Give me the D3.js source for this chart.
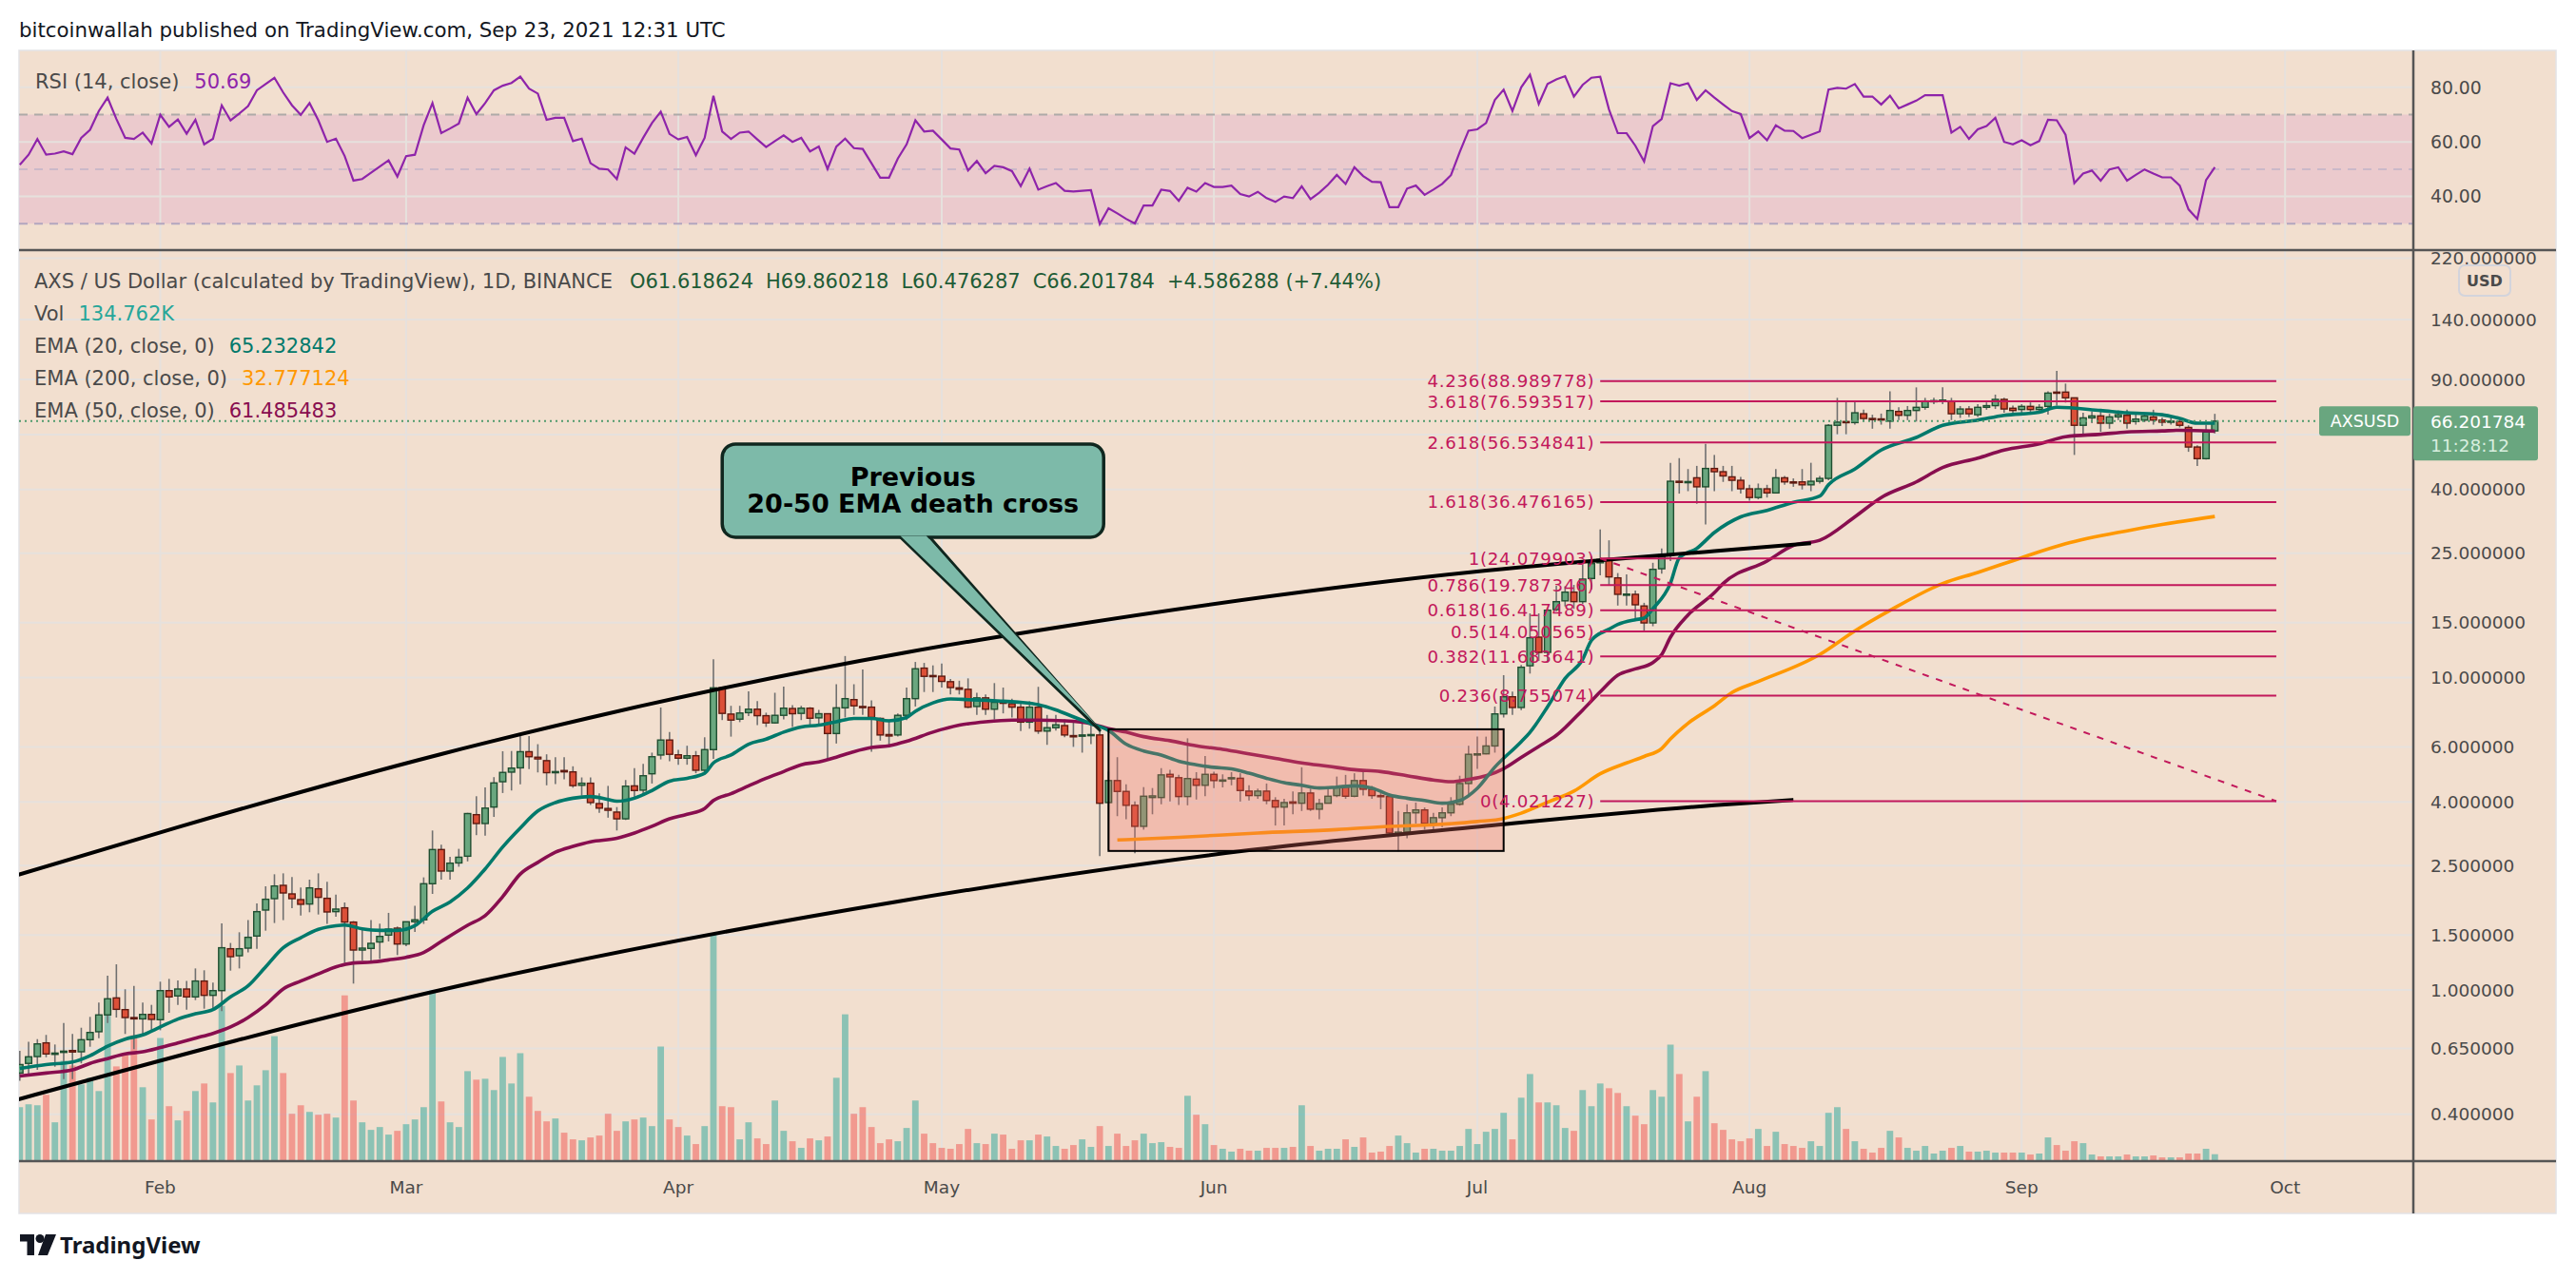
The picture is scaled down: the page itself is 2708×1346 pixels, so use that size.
<!DOCTYPE html>
<html>
<head>
<meta charset="utf-8">
<script src="https://cdn.jsdelivr.net/npm/d3@7"></script>
<style>
  html, body { margin: 0; padding: 0; background: #fff; }
  svg { display: block; }
</style>
</head>
<body>
<svg id="chart"></svg>
<script>
// ---- data (AXS/USD daily, Binance) ----
const firstDay = "2021-01-16"
const lastDay = "2021-09-23"

const opens = [
  .542,.582,.612,.677,.622,.631,.640,.634,.693,.735,.832,.943,.865,.816,.808,.835,
  .803,.995,.957,1.007,.950,1.068,.961,.995,1.355,1.287,1.361,1.488,1.802,1.960,2.162,2.030,1.946,1.884,2.107,1.965,1.781,1.832,1.649,1.342,1.358,1.424,1.498,1.577,
  1.403,1.653,1.677,2.188,2.815,2.402,2.55,2.68,3.64,3.41,3.85,4.64,4.98,5.14,5.79,5.56,5.42,4.96,5.04,4.99,4.52,4.59,3.95,3.81,3.71,3.53,4.50,4.36,4.92,5.65,6.31,
  5.66,5.52,5.62,5.05,5.88,9.27,7.64,7.36,7.72,7.92,7.55,7.16,7.57,7.96,7.68,7.98,7.43,7.66,6.62,8.00,8.50,8.08,8.04,7.40,6.57,6.55,7.57,8.56,10.72,10.15,
  10.10,9.70,9.27,9.17,8.08,8.61,7.92,8.38,8.25,8.04,7.20,8.04,6.74,6.91,7.02,6.52,6.49,6.54,6.55,3.98,4.68,4.32,3.90,3.34,4.13,4.13,4.90,4.78,4.16,4.73,4.52,
  4.90,4.66,4.74,4.76,4.33,4.19,4.33,4.04,3.85,4.00,3.96,4.27,3.79,3.96,4.19,4.50,4.17,4.68,4.39,4.19,4.16,3.16,3.20,3.69,3.77,3.41,3.56,3.69,3.93,4.58,
  5.65,5.70,6.04,7.65,8.68,8.02,10.91,13.47,12.04,16.5,17.6,18.77,17.5,20.76,23.3,23.8,20.85,18.45,18.47,16.95,14.96,22.3,24.7,42.5,42.2,43.6,40.8,46.7,45.6,43.9,42.8,
  40.2,37.7,40.2,39.0,43.6,42.3,42.3,41.4,42.5,43.4,64.2,66.0,65.5,69.9,67.5,67.3,66.2,71.1,69.1,71.6,73.3,76.8,76.6,76.8,69.9,72.4,69.4,73.3,74.2,77.7,72.8,
  72.1,73.8,72.1,73.8,82.0,82.0,78.6,64.2,67.8,68.8,65.2,68.3,69.1,66.0,66.7,68.3,66.7,65.7,66.0,63.2,54.7,50.2,61.618624
]
const highs = [
  .639,.683,.696,.718,.669,.784,.723,.757,.820,.911,1.111,1.208,1.005,1.031,.911,.896,
  1.063,1.085,1.073,1.068,1.172,1.156,1.055,1.634,1.414,1.530,1.673,1.893,2.147,2.346,2.362,2.298,2.127,2.255,2.362,2.218,2.020,1.906,1.661,1.570,1.673,1.630,1.765,1.596,
  1.657,1.858,2.293,3.239,2.915,2.668,2.83,3.69,4.17,4.45,4.80,5.81,5.82,6.60,6.50,6.12,5.68,5.56,5.56,5.20,4.79,4.79,4.26,4.50,3.85,4.70,5.13,5.29,5.75,8.02,6.69,
  5.87,6.05,5.82,6.44,11.45,9.35,8.12,8.12,9.03,8.40,7.72,8.94,9.36,8.16,8.12,8.04,7.88,7.68,9.52,11.72,9.52,10.62,8.45,7.45,7.34,7.68,9.29,11.22,11.14,10.94,
  11.08,9.89,9.77,9.94,8.94,8.83,9.60,9.29,8.56,8.40,8.40,9.34,7.59,7.59,7.34,7.31,7.22,7.09,6.81,5.00,5.56,4.55,4.01,4.46,4.43,5.13,5.07,4.88,6.39,4.98,5.61,
  5.00,4.90,4.98,4.94,4.52,4.41,4.58,4.14,4.09,4.32,5.16,4.41,4.09,4.41,4.82,4.88,4.94,5.07,4.50,4.27,4.19,3.74,3.93,3.98,3.84,3.69,3.84,4.14,4.85,6.05,
  6.47,6.47,8.08,10.18,9.02,10.97,16.05,16.05,16.6,19.67,19.6,19.8,23.05,24.4,29.8,27.5,21.6,21.4,19.0,17.35,23.3,25.9,48.7,50.4,46.5,47.6,56.0,51.6,47.6,47.6,43.9,
  41.4,41.8,41.4,46.5,44.2,43.4,46.5,48.7,44.2,64.8,78.6,76.8,76.8,72.0,69.4,70.0,82.4,73.3,74.0,84.9,78.6,78.6,84.9,78.6,74.0,74.0,75.0,76.0,80.5,78.6,74.2,
  75.0,76.0,75.0,82.4,95.9,87.3,78.6,70.4,71.0,72.0,69.9,71.6,72.0,70.0,70.4,72.0,68.0,68.3,67.5,64.2,55.4,64.5,69.860218
]
const lows = [
  .512,.530,.555,.609,.568,.518,.518,.582,.658,.701,.784,.816,.723,.646,.714,.738,
  .743,.845,.896,.865,.928,.871,.865,.855,1.153,1.172,1.318,1.355,1.548,1.638,1.673,1.827,1.732,1.773,1.744,1.627,1.716,1.220,1.048,1.243,1.228,1.257,1.430,1.293,
  1.380,1.533,1.627,2.030,2.255,2.255,2.48,2.58,3.13,3.12,3.58,4.27,4.35,4.55,5.09,4.97,4.52,4.56,4.72,4.44,4.19,3.91,3.69,3.56,3.24,3.50,4.12,4.19,4.58,5.47,5.40,
  5.26,5.26,4.94,4.94,5.49,7.31,6.47,7.20,7.53,7.04,6.95,7.12,7.34,6.95,7.31,6.95,7.04,5.47,6.15,7.45,7.59,7.59,5.79,6.28,5.97,6.47,7.31,8.08,8.99,8.99,
  9.29,8.83,8.83,7.98,7.59,7.59,7.34,7.68,7.45,6.74,6.86,6.60,6.09,6.77,6.44,6.00,5.75,6.12,2.68,2.80,3.60,3.52,2.74,3.26,3.65,3.93,4.01,3.91,3.90,4.07,4.17,
  4.43,4.45,4.52,4.01,4.04,4.09,3.93,3.36,3.36,3.65,3.74,3.74,3.52,3.95,4.14,4.09,4.14,4.19,4.09,3.79,3.13,2.78,3.06,3.41,3.26,3.26,3.32,3.60,3.89,4.24,
  5.10,5.68,5.75,7.45,7.60,7.87,10.30,11.30,11.17,16.3,16.9,16.6,17.2,19.12,21.24,19.8,17.0,17.0,15.3,13.95,14.6,21.5,23.6,38.8,39.5,36.0,30.9,39.5,42.3,39.5,38.8,
  36.8,37.2,37.7,38.8,41.4,40.8,40.0,39.5,41.8,42.8,60.1,60.1,64.5,66.0,62.6,64.5,62.6,66.7,66.7,66.0,72.0,75.0,75.0,66.7,67.8,68.3,68.3,72.0,72.4,70.4,69.4,
  70.4,70.4,70.4,69.4,74.2,75.9,51.6,60.1,65.2,61.2,62.6,66.7,62.6,64.5,65.7,64.5,63.8,64.5,63.2,52.8,47.6,49.9,60.476287
]
const closes = [
  .577,.611,.672,.624,.628,.637,.633,.693,.731,.832,.937,.867,.816,.808,.835,.805,
  .995,.950,1.007,.950,1.068,.961,.995,1.365,1.278,1.355,1.474,1.781,1.951,2.152,2.044,1.960,1.880,2.122,1.979,1.777,1.815,1.649,1.342,1.361,1.410,1.484,1.566,1.403,
  1.653,1.677,2.188,2.815,2.402,2.546,2.66,3.67,3.41,3.82,4.60,4.97,5.13,5.79,5.58,5.49,4.96,5.00,4.99,4.51,4.59,3.98,3.82,3.76,3.53,4.49,4.35,4.85,5.58,6.31,5.68,
  5.52,5.62,5.05,5.88,9.27,7.68,7.31,7.70,7.92,7.55,7.16,7.57,7.98,7.66,7.98,7.41,7.66,6.62,8.00,8.56,8.12,8.02,7.45,6.55,6.50,7.57,8.56,10.67,10.09,10.07,
  9.72,9.29,9.17,8.04,8.61,7.92,8.33,8.27,8.04,7.20,8.04,6.74,6.91,7.06,6.55,6.46,6.55,6.57,3.96,4.68,4.32,3.90,3.34,4.17,4.18,4.88,4.81,4.16,4.75,4.52,4.90,
  4.68,4.70,4.78,4.35,4.19,4.33,4.04,3.85,3.98,3.96,4.27,3.79,3.95,4.17,4.45,4.17,4.68,4.39,4.19,4.16,3.18,3.20,3.69,3.77,3.41,3.56,3.69,3.93,4.58,5.68,
  5.70,6.04,7.65,8.68,8.02,10.79,13.41,12.04,16.43,17.50,18.77,17.50,20.66,23.16,23.88,21.0,18.47,18.5,17.1,14.96,22.2,24.7,42.5,42.2,42.4,40.8,46.7,45.6,44.2,42.8,40.2,
  37.7,40.2,39.0,43.6,42.3,42.2,41.4,42.5,43.4,64.2,65.7,65.5,70.4,67.5,67.3,67.0,71.6,69.1,71.6,73.3,76.8,77.0,77.3,69.9,72.4,69.9,73.3,74.2,77.7,72.4,71.6,
  73.8,72.1,73.3,81.4,81.4,78.6,64.2,67.8,68.8,65.2,68.3,69.4,65.2,67.2,68.8,66.7,65.7,66.2,64.2,54.7,50.2,61.1,66.201784
]
// volume in thousands of AXS
const volumes = [
  1198,1263,1241,1477,856,2247,2140,1712,1862,1562,3360,2119,2375,2825,1648,920,
  2761,1220,899,1113,1562,1733,1305,3488,1969,2140,1348,1691,2033,2803,1969,1049,1241,1091,1027,1049,963,3724,1348,856,685,749,578,663,
  813,920,1198,3831,1327,856,749,2012,1819,1840,1584,2333,1733,2418,1434,1113,877,942,621,471,449,514,556,1049,663,877,920,963,770,2568,920,
  749,556,364,770,5115,1220,1198,471,856,492,364,1348,663,428,278,492,449,535,1862,3296,1049,1198,749,385,471,428,728,1348,599,385,
  278,257,364,706,385,364,599,578,257,449,449,578,535,321,257,342,471,300,770,321,599,321,449,599,385,407,300,278,1455,1027,813,
  342,257,193,257,214,214,278,278,278,300,1241,321,214,257,257,471,300,514,171,193,321,556,385,171,257,257,214,214,321,706,
  364,642,706,1070,471,1412,1947,1305,1305,1241,728,663,1584,1220,1733,1626,1519,1220,1006,813,1584,1434,2611,1947,877,1434,2012,835,685,471,428,
  492,706,321,642,364,321,278,428,321,1070,1198,706,428,257,171,278,663,514,278,214,321,150,214,278,321,193,193,214,171,171,171,
  171,128,150,514,342,214,428,385,128,86,86,86,128,86,86,107,64,64,64,150,150,257,134.762
]
const rsiValues = [
  51.6,55.3,61.0,55.3,55.7,56.5,55.5,61.5,64.4,71.3,76.2,68.4,61.5,61.1,63.4,59.4,
  69.9,65.5,68.2,63.0,68.1,59.1,61.1,73.4,67.9,70.4,73.1,78.9,81.2,83.5,78.1,73.4,69.9,74.2,67.9,60.0,61.2,54.8,45.8,46.4,48.7,51.0,53.2,47.3,
  54.8,55.3,66.1,74.2,63.2,64.9,66.7,76.2,70.2,74.2,78.9,80.6,81.6,83.9,79.5,77.7,68.1,68.8,68.8,60.3,61.2,52.2,50.2,49.9,46.4,58.0,55.7,61.5,66.9,71.1,62.9,
  60.9,61.8,55.1,61.5,76.9,63.8,61.1,63.4,63.8,60.9,58.1,60.3,62.4,60.0,61.5,56.5,58.3,50.1,58.3,61.2,57.7,57.4,52.2,46.9,46.9,53.9,59.1,67.9,63.8,64.1,
  60.9,57.6,57.2,49.5,53.0,48.5,51.2,50.7,49.3,43.8,50.2,42.5,43.8,44.9,42.1,41.8,42.1,42.3,29.9,35.7,33.8,31.8,30.1,36.7,36.7,42.5,42.0,38.4,43.2,41.8,44.9,
  43.5,43.5,44.0,40.9,40.0,41.7,39.4,38.0,40.0,39.4,43.7,39.0,41.4,44.3,47.9,44.6,50.7,47.5,45.4,45.2,36.1,36.1,42.9,44.0,40.6,42.5,44.6,47.8,56.3,64.1,
  64.6,66.9,75.4,79.1,71.3,80.0,84.6,73.9,81.2,82.9,84.1,76.6,80.9,83.5,83.9,71.9,63.2,63.2,58.6,52.8,65.8,68.4,81.5,80.6,81.5,75.4,78.9,76.2,73.7,71.3,70.2,
  61.4,63.8,60.6,66.1,64.1,64.0,61.4,62.6,63.8,79.2,79.8,79.5,81.2,76.6,76.6,73.7,76.9,72.3,73.7,75.1,77.1,77.1,77.1,63.4,65.5,61.1,64.6,65.8,68.8,60.0,59.1,
  60.6,58.8,60.3,68.1,67.9,62.6,44.9,48.4,49.5,45.8,49.9,50.7,45.8,47.9,49.9,48.4,47.0,47.0,44.0,35.3,31.8,46.0,50.69
]

// moving averages
const ema20Pts = [
  ["2021-01-16",0.561],["2021-01-19",0.577],["2021-01-22",0.588],["2021-01-24",0.616],["2021-01-26",0.661],["2021-01-28",0.696],
  ["2021-01-30",0.718],["2021-02-01",0.761],["2021-02-03",0.807],["2021-02-05",0.839],["2021-02-07",0.865],["2021-02-09",0.950],
  ["2021-02-11",1.031],["2021-02-13",1.186],["2021-02-15",1.365],["2021-02-17",1.470],["2021-02-19",1.563],["2021-02-21",1.606],
  ["2021-02-22",1.614],["2021-02-24",1.569],["2021-02-26",1.551],["2021-02-28",1.551],["2021-03-02",1.606],["2021-03-04",1.785],
  ["2021-03-06",1.913],["2021-03-08",2.12],["2021-03-10",2.44],["2021-03-12",2.87],["2021-03-14",3.30],["2021-03-16",3.74],
  ["2021-03-18",3.98],["2021-03-20",4.11],["2021-03-22",4.16],["2021-03-24",4.07],["2021-03-25",4.02],["2021-03-27",4.11],
  ["2021-03-29",4.35],["2021-03-31",4.66],["2021-04-02",4.76],["2021-04-04",4.94],["2021-04-05",5.33],["2021-04-07",5.65],
  ["2021-04-09",6.12],["2021-04-11",6.35],["2021-04-13",6.69],["2021-04-15",6.95],["2021-04-17",7.04],["2021-04-19",7.22],
  ["2021-04-21",7.40],["2021-04-23",7.40],["2021-04-25",7.27],["2021-04-27",7.45],["2021-04-28",7.80],["2021-04-30",8.30],
  ["2021-05-02",8.54],["2021-05-04",8.50],["2021-05-06",8.46],["2021-05-08",8.40],["2021-05-10",8.33],["2021-05-12",8.19],
  ["2021-05-14",7.88],["2021-05-16",7.49],["2021-05-18",7.12],["2021-05-20",6.77],["2021-05-22",6.12],["2021-05-24",5.82],
  ["2021-05-26",5.65],["2021-05-28",5.40],["2021-05-30",5.26],["2021-06-01",5.16],["2021-06-03",5.10],["2021-06-05",4.94],
  ["2021-06-07",4.76],["2021-06-09",4.61],["2021-06-11",4.52],["2021-06-13",4.43],["2021-06-15",4.46],["2021-06-17",4.50],
  ["2021-06-19",4.43],["2021-06-21",4.21],["2021-06-23",4.11],["2021-06-25",4.04],["2021-06-27",3.96],["2021-06-29",4.04],
  ["2021-07-01",4.42],["2021-07-03",5.17],["2021-07-06",6.23],["2021-07-07",6.68],["2021-07-09",8.06],["2021-07-11",9.94],
  ["2021-07-13",11.44],["2021-07-14",13.16],["2021-07-16",14.28],["2021-07-17",14.79],["2021-07-19",15.32],["2021-07-20",15.50],
  ["2021-07-21",16.62],["2021-07-23",20.04],["2021-07-24",24.16],["2021-07-26",25.91],["2021-07-28",29.13],["2021-07-31",32.7],
  ["2021-08-03",34.3],["2021-08-06",36.4],["2021-08-09",38.1],["2021-08-10",41.4],["2021-08-13",46.5],["2021-08-16",53.5],
  ["2021-08-20",58.7],["2021-08-23",64.2],["2021-08-27",66.7],["2021-08-30",69.1],["2021-09-03",70.7],["2021-09-05",73.3],
  ["2021-09-10",71.6],["2021-09-13",70.4],["2021-09-17",69.4],["2021-09-19",67.5],["2021-09-21",65.2],["2021-09-23",65.232842]
]
const ema50Pts = [
  ["2021-01-16",0.530],["2021-01-19",0.542],["2021-01-22",0.555],["2021-01-24",0.582],["2021-01-26",0.603],["2021-01-28",0.624],
  ["2021-01-30",0.634],["2021-02-01",0.654],["2021-02-03",0.677],["2021-02-05",0.701],["2021-02-07",0.726],["2021-02-09",0.761],
  ["2021-02-11",0.816],["2021-02-13",0.896],["2021-02-15",1.007],["2021-02-17",1.068],["2021-02-19",1.126],["2021-02-21",1.186],
  ["2021-02-23",1.220],["2021-02-25",1.228],["2021-02-27",1.248],["2021-03-01",1.272],["2021-03-03",1.318],["2021-03-05",1.43],
  ["2021-03-08",1.61],["2021-03-10",1.73],["2021-03-12",1.99],["2021-03-14",2.35],["2021-03-16",2.56],["2021-03-18",2.76],
  ["2021-03-20",2.88],["2021-03-22",2.98],["2021-03-25",3.06],["2021-03-27",3.18],["2021-03-29",3.34],["2021-03-31",3.53],
  ["2021-04-02",3.65],["2021-04-04",3.81],["2021-04-05",4.04],["2021-04-07",4.25],["2021-04-09",4.50],["2021-04-11",4.76],
  ["2021-04-13",5.00],["2021-04-15",5.26],["2021-04-17",5.37],["2021-04-19",5.56],["2021-04-21",5.79],["2021-04-23",5.97],
  ["2021-04-25",6.05],["2021-04-27",6.25],["2021-04-30",6.69],["2021-05-03",7.04],["2021-05-06",7.22],["2021-05-09",7.31],
  ["2021-05-12",7.31],["2021-05-15",7.27],["2021-05-18",7.12],["2021-05-20",6.86],["2021-05-22",6.69],["2021-05-24",6.47],
  ["2021-05-27",6.28],["2021-05-30",6.05],["2021-06-02",5.89],["2021-06-05",5.70],["2021-06-08",5.51],["2021-06-11",5.33],
  ["2021-06-14",5.20],["2021-06-17",5.07],["2021-06-20",5.00],["2021-06-23",4.85],["2021-06-26",4.70],["2021-06-28",4.64],
  ["2021-06-30",4.72],["2021-07-02",4.85],["2021-07-04",5.11],["2021-07-06",5.55],["2021-07-08",6.02],["2021-07-10",6.53],
  ["2021-07-13",7.87],["2021-07-15",9.0],["2021-07-17",10.18],["2021-07-19",10.66],["2021-07-21",11.17],["2021-07-22",11.85],
  ["2021-07-23",13.47],["2021-07-25",15.86],["2021-07-28",18.68],["2021-07-29",20.0],["2021-08-03",23.6],["2021-08-06",26.5],
  ["2021-08-09",27.5],["2021-08-13",32.7],["2021-08-16",37.7],["2021-08-20",42.3],["2021-08-23",47.0],["2021-08-27",50.4],
  ["2021-08-30",53.5],["2021-09-03",56.0],["2021-09-06",59.0],["2021-09-10",60.1],["2021-09-13",61.1],["2021-09-17",61.6],
  ["2021-09-19",61.9],["2021-09-23",61.485483]
]
const ema200Pts = [
  ["2021-05-21",3.02],["2021-05-28",3.08],["2021-06-06",3.18],["2021-06-15",3.26],["2021-06-21",3.34],["2021-06-26",3.38],
  ["2021-07-01",3.46],["2021-07-04",3.54],["2021-07-06",3.68],["2021-07-09",3.99],["2021-07-12",4.33],["2021-07-15",4.92],
  ["2021-07-18",5.33],["2021-07-20",5.59],["2021-07-22",5.93],["2021-07-23",6.36],["2021-07-25",7.14],["2021-07-28",8.12],
  ["2021-07-30",8.95],["2021-08-02",9.71],["2021-08-09",11.85],["2021-08-13",14.1],["2021-08-17",16.4],["2021-08-23",20.0],
  ["2021-08-27",21.7],["2021-09-01",24.2],["2021-09-06",26.8],["2021-09-13",29.5],["2021-09-17",30.9],["2021-09-23",32.777124]
]

// drawings on the chart
const channelUpper = [["2021-01-15",2.30],["2021-02-03",3.32],["2021-03-05",5.69],["2021-04-27",12.04],["2021-05-14",14.45],["2021-07-02",22.0],["2021-07-28",25.4],["2021-08-08",26.9]]
const channelLower = [["2021-01-15",0.44],["2021-03-07",1.03],["2021-04-26",1.92],["2021-06-05",2.80],["2021-07-02",3.35],["2021-07-28",3.90],["2021-08-06",4.06]]
const rangeBox = { from: "2021-05-20", to: "2021-07-04", top: 6.83, bottom: 2.786 }
const fibRatios = ["0", "0.236", "0.382", "0.5", "0.618", "0.786", "1", "1.618", "2.618", "3.618", "4.236"]
const fibPrices = [4.021227, 8.755074, 11.683641, 14.050565, 16.417489, 19.787346, 24.079903, 36.476165, 56.534841, 76.593517, 88.989778]
const fibRange = { from: "2021-07-15", to: "2021-09-30" }
const callout = { lines: ["Previous", "20-50 EMA death cross"], boxDate: "2021-04-06", boxPrice: 55.9, tipDate: "2021-05-19", tipPrice: 6.78 }

const priceTicks = [220, 140, 90, 60, 40, 25, 15, 10, 6, 4, 2.5, 1.5, 1, 0.65, 0.4]
const rsiTicks = [80, 60, 40]
const rsiBands = [70, 50, 30]
const monthTicks = ["2021-02-01","2021-03-01","2021-04-01","2021-05-01","2021-06-01","2021-07-01","2021-08-01","2021-09-01","2021-10-01"]

const legend = {
  title: "AXS / US Dollar (calculated by TradingView), 1D, BINANCE",
  ohlc: ["O61.618624", "H69.860218", "L60.476287", "C66.201784", "+4.586288 (+7.44%)"],
  vol: "134.762K",
  emas: [["EMA (20, close, 0)", "65.232842", "#00796b"], ["EMA (200, close, 0)", "32.777124", "#ff9800"], ["EMA (50, close, 0)", "61.485483", "#880e4f"]]
}

// ---- layout ----
const W = 2708, H = 1346
const L = 20, T = 53, R = 2687, B = 1276
const axisX = 2537, rsiBottom = 263, mainBottom = 1221
const bg = "#f2dfcf", grid = "#e6e1dd", textGray = "#4a4a4a"
const font = "'DejaVu Sans', Verdana, sans-serif"

const parse = d3.utcParse("%Y-%m-%d")
const days = d3.utcDay.range(parse(firstDay), d3.utcDay.offset(parse(lastDay), 1))
const bars = days.map((date, i) => ({
  date, o: opens[i], h: highs[i], l: lows[i], c: closes[i], v: volumes[i], rsi: rsiValues[i]
}))

const x = d3.scaleUtc()
  .domain([parse("2021-02-01"), parse("2021-10-01")])
  .range([168.5, 168.5 + 9.23 * 242])
const y = d3.scaleLog().domain([1, 100]).range([1041, 384])
const yR = d3.scaleLinear().domain([30, 80]).range([235.3, 91.8])
const yV = d3.scaleLinear().domain([0, 5115]).range([mainBottom - 1, 982])

const svg = d3.select("#chart").attr("width", W).attr("height", H)
  .style("font-family", font)
svg.append("rect").attr("width", W).attr("height", H).attr("fill", "#fff")

const defs = svg.append("defs")
defs.append("clipPath").attr("id", "clipMain")
  .append("rect").attr("x", L).attr("y", rsiBottom).attr("width", axisX - L).attr("height", mainBottom - rsiBottom)
defs.append("clipPath").attr("id", "clipRsi")
  .append("rect").attr("x", L).attr("y", T).attr("width", axisX - L).attr("height", rsiBottom - T)

// title
svg.append("text").attr("x", 20).attr("y", 39)
  .attr("font-size", 21.3).attr("fill", "#131722")
  .text("bitcoinwallah published on TradingView.com, Sep 23, 2021 12:31 UTC")

// panel
svg.append("rect").attr("x", L).attr("y", T).attr("width", R - L).attr("height", B - T)
  .attr("fill", bg).attr("stroke", "#e3e3e6").attr("stroke-width", 1.5)

// ---- RSI pane ----
const rsiG = svg.append("g").attr("clip-path", "url(#clipRsi)")
rsiG.append("rect")
  .attr("x", L).attr("width", axisX - L)
  .attr("y", yR(70)).attr("height", yR(30) - yR(70))
  .attr("fill", "rgba(214,140,200,0.24)")
rsiG.selectAll(".rgrid").data(rsiTicks).join("line")
  .attr("x1", L).attr("x2", axisX).attr("y1", d => yR(d)).attr("y2", d => yR(d))
  .attr("stroke", grid).attr("stroke-width", 2)
rsiG.selectAll(".vgrid").data(monthTicks).join("line")
  .attr("x1", d => x(parse(d))).attr("x2", d => x(parse(d)))
  .attr("y1", T).attr("y2", rsiBottom)
  .attr("stroke", grid).attr("stroke-width", 2)
rsiG.selectAll(".band").data(rsiBands).join("line")
  .attr("x1", L).attr("x2", axisX).attr("y1", d => yR(d)).attr("y2", d => yR(d))
  .attr("stroke", d => d === 50 ? "#cbb9c9" : (d === 70 ? "#aeaaa8" : "#b3a6bf"))
  .attr("stroke-width", 2).attr("stroke-dasharray", "9,7")
rsiG.append("path").datum(bars)
  .attr("fill", "none").attr("stroke", "#8e24aa").attr("stroke-width", 2.2)
  .attr("d", d3.line().x(d => x(d.date)).y(d => yR(d.rsi)))

svg.append("text").attr("x", 37).attr("y", 93).attr("font-size", 21).attr("fill", textGray)
  .text("RSI (14, close)")
  .append("tspan").attr("dx", 16).attr("fill", "#8e24aa").text(rsiValues[rsiValues.length - 1].toFixed(2))

// ---- main pane ----
const mainG = svg.append("g").attr("clip-path", "url(#clipMain)")
mainG.selectAll(".pgrid").data(priceTicks).join("line")
  .attr("x1", L).attr("x2", axisX).attr("y1", d => y(d)).attr("y2", d => y(d))
  .attr("stroke", grid).attr("stroke-width", 2)
mainG.selectAll(".vgrid").data(monthTicks).join("line")
  .attr("x1", d => x(parse(d))).attr("x2", d => x(parse(d)))
  .attr("y1", rsiBottom).attr("y2", mainBottom)
  .attr("stroke", grid).attr("stroke-width", 2)

// volume
const up = d => d.c >= d.o
mainG.selectAll(".vol").data(bars).join("rect")
  .attr("x", d => x(d.date) - 3.4).attr("width", 6.8)
  .attr("y", d => yV(d.v)).attr("height", d => yV(0) - yV(d.v))
  .attr("fill", d => up(d) ? "rgba(38,166,154,0.5)" : "rgba(239,83,80,0.5)")

// candles
mainG.selectAll(".wick").data(bars).join("line")
  .attr("x1", d => x(d.date)).attr("x2", d => x(d.date))
  .attr("y1", d => y(d.h)).attr("y2", d => y(d.l))
  .attr("stroke", "#707070").attr("stroke-width", 1.6)
mainG.selectAll(".body").data(bars).join("rect")
  .attr("x", d => x(d.date) - 3.3).attr("width", 6.6)
  .attr("y", d => y(Math.max(d.o, d.c)))
  .attr("height", d => Math.max(1.2, Math.abs(y(d.o) - y(d.c))))
  .attr("fill", d => up(d) ? "#6aa77f" : "#dc5038")
  .attr("stroke", d => up(d) ? "#1f4e30" : "#5e1a10").attr("stroke-width", 1.4)

// EMAs
const emaLine = d3.line().x(d => x(parse(d[0]))).y(d => y(d[1])).curve(d3.curveMonotoneX)
;[[ema200Pts, "#ff9800"], [ema50Pts, "#880e4f"], [ema20Pts, "#00796b"]].forEach(([pts, col]) => {
  mainG.append("path").datum(pts).attr("fill", "none")
    .attr("stroke", col).attr("stroke-width", 3.6).attr("stroke-linejoin", "round")
    .attr("d", emaLine)
})

// channel lines
const chanLine = d3.line().x(d => x(parse(d[0]))).y(d => y(d[1])).curve(d3.curveMonotoneX)
;[channelUpper, channelLower].forEach(pts => {
  mainG.append("path").datum(pts).attr("fill", "none")
    .attr("stroke", "#000").attr("stroke-width", 4).attr("d", chanLine)
})

// range box
mainG.append("rect")
  .attr("x", x(parse(rangeBox.from))).attr("width", x(parse(rangeBox.to)) - x(parse(rangeBox.from)))
  .attr("y", y(rangeBox.top)).attr("height", y(rangeBox.bottom) - y(rangeBox.top))
  .attr("fill", "rgba(240,110,100,0.3)").attr("stroke", "#000").attr("stroke-width", 2)

// fibonacci retracement
const fx0 = x(parse(fibRange.from)), fx1 = x(parse(fibRange.to))
const fibCol = "#c2185b"
mainG.selectAll(".fib").data(fibPrices).join("line")
  .attr("x1", fx0).attr("x2", fx1).attr("y1", d => y(d)).attr("y2", d => y(d))
  .attr("stroke", fibCol).attr("stroke-width", 2)
mainG.append("line")
  .attr("x1", fx0).attr("y1", y(fibPrices[6]))
  .attr("x2", fx1).attr("y2", y(fibPrices[0]))
  .attr("stroke", fibCol).attr("stroke-width", 2).attr("stroke-dasharray", "7,8")
mainG.selectAll(".fibLabel").data(fibPrices).join("text")
  .attr("x", fx0 - 6).attr("y", d => y(d)).attr("dy", "0.36em")
  .attr("text-anchor", "end").attr("font-size", 18.2).attr("letter-spacing", 0.7).attr("fill", fibCol)
  .text((d, i) => `${fibRatios[i]}(${d.toFixed(6)})`)

// current price dotted line
const last = bars[bars.length - 1]
mainG.append("line").attr("x1", L).attr("x2", 2438).attr("y1", y(last.c)).attr("y2", y(last.c))
  .attr("stroke", "#4f9a6c").attr("stroke-width", 2).attr("stroke-dasharray", "2,4")

// callout
const cx0 = x(parse(callout.boxDate)), cy0 = y(callout.boxPrice)
const cw = 401, ch = 98
const tipX = x(parse(callout.tipDate)), tipY = y(callout.tipPrice)
const calloutG = svg.append("g")
calloutG.append("path")
  .attr("d", `M${cx0 + cw * 0.462},${cy0 + ch - 2} L${tipX},${tipY} L${cx0 + cw * 0.54},${cy0 + ch - 2} Z`)
  .attr("fill", "#7dbaa9").attr("stroke", "#10271f").attr("stroke-width", 3).attr("stroke-linejoin", "round")
calloutG.append("rect").attr("x", cx0).attr("y", cy0).attr("width", cw).attr("height", ch)
  .attr("rx", 14).attr("fill", "#7dbaa9").attr("stroke", "#10271f").attr("stroke-width", 3.5)
calloutG.append("path")
  .attr("d", `M${cx0 + cw * 0.462 + 2},${cy0 + ch - 1.5} L${tipX - 2},${tipY - 4} L${cx0 + cw * 0.54 - 2},${cy0 + ch - 1.5} Z`)
  .attr("fill", "#7dbaa9")
calloutG.selectAll(".cl").data(callout.lines).join("text")
  .attr("x", cx0 + cw / 2).attr("y", (d, i) => cy0 + 44 + i * 28)
  .attr("text-anchor", "middle")
  .attr("font-weight", "bold").attr("font-size", 27).attr("fill", "#000")
  .text(d => d)

// ---- legend ----
const lg = svg.append("g").attr("font-size", 21).attr("fill", textGray)
const l1 = lg.append("text").attr("x", 36).attr("y", 303).text(legend.title)
legend.ohlc.forEach((t, i) => l1.append("tspan").attr("dx", i === 0 ? 18 : 13).attr("fill", "#1e5c36").text(t))
lg.append("text").attr("x", 36).attr("y", 337).text("Vol")
  .append("tspan").attr("dx", 15).attr("fill", "#26a69a").text(legend.vol)
legend.emas.forEach(([label, val, col], i) => {
  lg.append("text").attr("x", 36).attr("y", 371 + i * 34).text(label)
    .append("tspan").attr("dx", 15).attr("fill", col).text(val)
})

// ---- separators & scales ----
svg.append("line").attr("x1", L).attr("x2", R).attr("y1", rsiBottom).attr("y2", rsiBottom)
  .attr("stroke", "#555").attr("stroke-width", 2.5)
svg.append("line").attr("x1", L).attr("x2", R).attr("y1", mainBottom).attr("y2", mainBottom)
  .attr("stroke", "#555").attr("stroke-width", 2.5)
svg.append("line").attr("x1", axisX).attr("x2", axisX).attr("y1", T).attr("y2", B)
  .attr("stroke", "#555").attr("stroke-width", 2.5)

const labelY = y(last.c)
svg.append("g").selectAll("text")
  .data(priceTicks.filter(d => Math.abs(y(d) - labelY) > 24))
  .join("text")
  .attr("x", 2555).attr("y", d => y(d)).attr("dy", "0.36em")
  .attr("font-size", 18.5).attr("fill", textGray)
  .text(d => d.toFixed(6))
svg.append("g").selectAll("text").data(rsiTicks).join("text")
  .attr("x", 2555).attr("y", d => yR(d)).attr("dy", "0.36em")
  .attr("font-size", 18.8).attr("fill", textGray)
  .text(d => d.toFixed(2))

// USD badge
svg.append("rect").attr("x", 2585).attr("y", 279).attr("width", 54).attr("height", 32).attr("rx", 6)
  .attr("fill", bg).attr("stroke", "#d3d4dc").attr("stroke-width", 2)
svg.append("text").attr("x", 2612).attr("y", 295).attr("dy", "0.36em").attr("text-anchor", "middle")
  .attr("font-size", 16).attr("font-weight", "bold").attr("fill", textGray).text("USD")

// price labels
const green = "#69a67f"
svg.append("rect").attr("x", 2537).attr("y", labelY - 15.5).attr("width", 131).attr("height", 57).attr("rx", 3).attr("fill", green)
svg.append("text").attr("x", 2555).attr("y", labelY).attr("dy", "0.36em").attr("font-size", 18.5).attr("fill", "#fff").text(last.c.toFixed(6))
svg.append("text").attr("x", 2555).attr("y", labelY + 25).attr("dy", "0.36em").attr("font-size", 18.5).attr("fill", "#d8eedf").text("11:28:12")
svg.append("rect").attr("x", 2438).attr("y", labelY - 15.5).attr("width", 96).attr("height", 31).attr("rx", 3).attr("fill", green)
svg.append("text").attr("x", 2486).attr("y", labelY).attr("dy", "0.36em").attr("text-anchor", "middle")
  .attr("font-size", 17.5).attr("fill", "#fff").text("AXSUSD")

// time axis
svg.append("g").selectAll("text").data(monthTicks).join("text")
  .attr("x", d => x(parse(d))).attr("y", 1248).attr("dy", "0.36em")
  .attr("text-anchor", "middle").attr("font-size", 18.5).attr("fill", textGray)
  .text(d => d3.utcFormat("%b")(parse(d)))

// TradingView logo
const logo = svg.append("g").attr("transform", "translate(21,1298)").attr("fill", "#131722")
logo.append("path").attr("d", "M0,0 H15 V22 H7.5 V7.5 H0 Z")
logo.append("circle").attr("cx", 21).attr("cy", 4.5).attr("r", 4.5)
logo.append("path").attr("d", "M27,0 H38 L29,22 H19 Z")
svg.append("text").attr("x", 63).attr("y", 1318).attr("font-family", "'Noto Sans', sans-serif")
  .attr("font-size", 24).attr("font-weight", "bold")
  .attr("fill", "#131722").text("TradingView")
</script>
</body>
</html>
